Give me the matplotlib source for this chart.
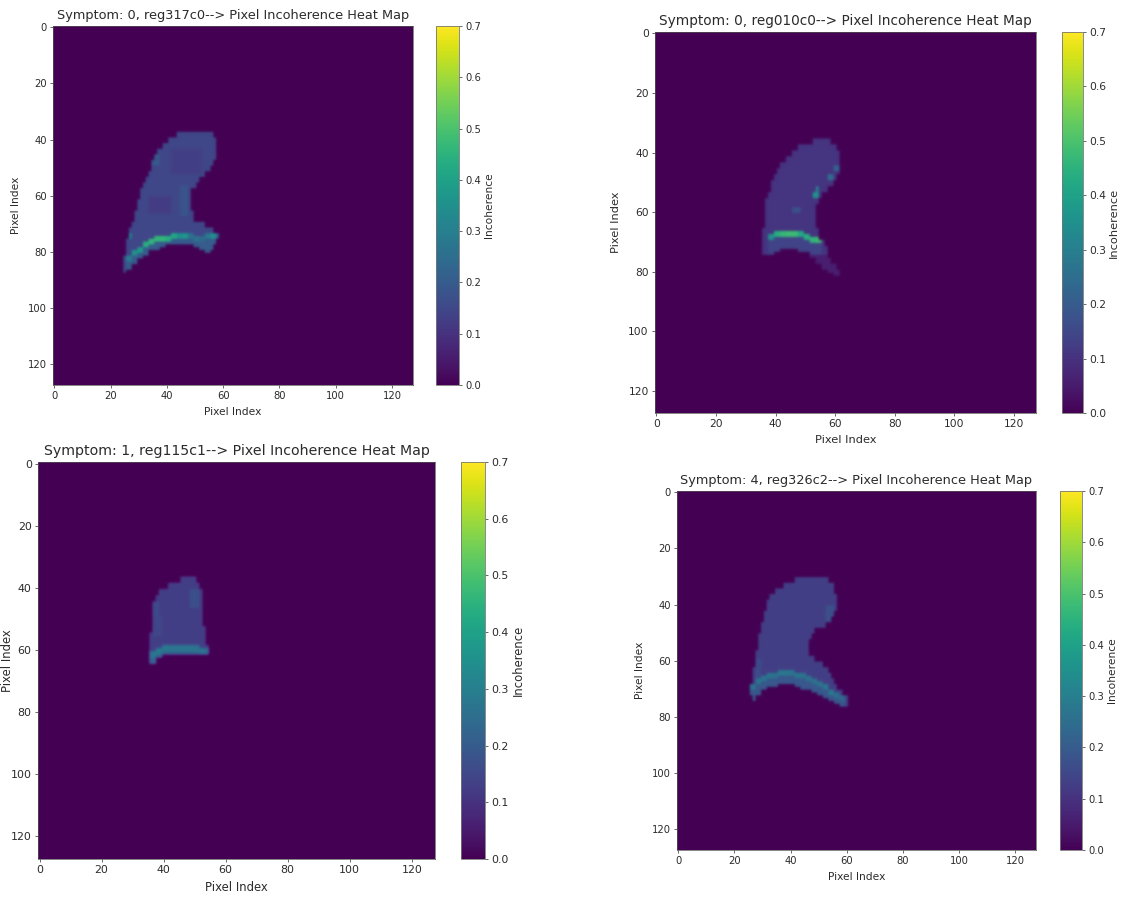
import numpy as np
import matplotlib
matplotlib.use("Agg")
import matplotlib.pyplot as plt

W, H = 1123, 899
SIZE = 128
TICKS = [0, 20, 40, 60, 80, 100, 120]
CBAR_TICKS = [0.0, 0.1, 0.2, 0.3, 0.4, 0.5, 0.6, 0.7]

TITLES = ["Symptom: 0, reg317c0--> Pixel Incoherence Heat Map",
          "Symptom: 0, reg010c0--> Pixel Incoherence Heat Map",
          "Symptom: 1, reg115c1--> Pixel Incoherence Heat Map",
          "Symptom: 4, reg326c2--> Pixel Incoherence Heat Map"]

# ---- panel 1: reg317c0 ----
P1_ROWS  = [38,40,42,44,46,48,50,52,54,56,58,60,62,64,66,68,70,72,74,76,78,80,82,84,86,88]
P1_LEFT  = [44,41,39,37,36,35,35,34,33,32,31,31,30,30,29,29,28,27,27,26,26,26,25,25,25]
P1_RIGHT = [56,57,57,57,57,56,55,53,51,50,48,48,48,48,49,49,53,56,58,58,56,55,55,30,27]
P1_BOT_COLS = [24,26,28,30,32,34,36,38,40,42,44,46,48,50,52,54,56,58,60]
P1_BOT_ROWS = [88,87,85,83,82,80,80,79,78,78,78,78,78,79,80,81,81,76,76]
P1_BASE = 0.15
P1_UNDER = 0.2
P1_BAND_COLS = [26,28,30,32,34,36,38,40,42,44,46,48,50,52,54,56,58]
P1_BAND_ROWS = [82,80,79,77,76,75,75,75,74,74,74,74,75,75,74,74,74]
P1_BAND_VALS = [0.3,0.35,0.38,0.44,0.46,0.46,0.46,0.44,0.42,0.35,0.37,0.26,0.26,0.24,0.28,0.35,0.2]
P1_PATCH_C0 = [42,34,45,34,26]
P1_PATCH_C1 = [53,42,48,38,28]
P1_PATCH_R0 = [44,61,57,46,74]
P1_PATCH_R1 = [53,67,68,50,76]
P1_PATCH_V  = [0.13,0.125,0.18,0.19,0.3]

# ---- panel 2: reg010c0 ----
P2_ROWS  = [36,38,40,42,44,46,48,50,52,54,56,58,60,62,64,66,68,70,72,74,76,78,80,82]
P2_LEFT  = [53,48,46,44,42,41,40,39,39,38,37,37,37,37,37,36,36,36,36,36,36,52,54]
P2_RIGHT = [58,60,61,61,61,61,60,59,57,55,54,53,53,53,53,54,54,56,57,57,58,60,61]
P2_BOT_COLS = [36,38,40,42,44,46,48,50,52,54,56,58,60,62]
P2_BOT_ROWS = [75,75,74,73,73,73,74,74,76,78,80,81,82,82]
P2_BASE = 0.105
P2_UNDER = 0.14
P2_BAND_COLS = [38,40,42,44,46,48,50,52,54]
P2_BAND_ROWS = [68,67,67,67,67,67,68,69,69]
P2_BAND_VALS = [0.36,0.44,0.47,0.48,0.48,0.42,0.44,0.46,0.48]
P2_PATCH_C0 = [54,53,58,60,46,52]
P2_PATCH_C1 = [55,55,60,62,49,63]
P2_PATCH_R0 = [52,54,48,45,59,75]
P2_PATCH_R1 = [54,56,50,47,61,83]
P2_PATCH_V  = [0.3,0.36,0.25,0.22,0.17,0.06]

# ---- panel 3: reg115c1 ----
P3_ROWS  = [37,39,41,43,45,47,49,51,53,55,57,59,61,63,65]
P3_LEFT  = [46,42,39,38,37,37,37,37,37,36,36,36,36,36]
P3_RIGHT = [50,51,52,52,52,52,52,52,53,53,53,54,54,39]
P3_BOT_COLS = [36,38,40,42,44,46,48,50,52,54]
P3_BOT_ROWS = [65,63,62,62,62,62,62,62,62,62]
P3_BASE = 0.13
P3_UNDER = 0.24
P3_BAND_COLS = [36,38,40,42,44,46,48,50,52,54]
P3_BAND_ROWS = [61,60,59,59,59,59,59,59,60,60]
P3_BAND_VALS = [0.28,0.28,0.28,0.27,0.27,0.27,0.27,0.27,0.27,0.25]
P3_PATCH_C0 = [49,37,37]
P3_PATCH_C1 = [52,39,40]
P3_PATCH_R0 = [41,45,50]
P3_PATCH_R1 = [47,50,56]
P3_PATCH_V  = [0.17,0.16,0.15]

# ---- panel 4: reg326c2 ----
P4_ROWS  = [31,33,35,37,39,41,43,45,47,49,51,53,55,57,59,61,63,65,67,69,71,73,75,77]
P4_LEFT  = [42,38,35,33,32,32,31,31,30,30,29,29,29,28,28,28,27,27,27,26,26,27,52]
P4_RIGHT = [53,55,55,56,56,56,55,54,52,48,47,46,46,46,48,51,53,54,55,56,58,60,60]
P4_BOT_COLS = [26,28,30,32,34,36,38,40,42,44,46,48,50,52,54,56,58,60]
P4_BOT_ROWS = [75,73,71,70,70,69,69,69,70,71,71,72,73,74,75,76,77,78]
P4_BASE = 0.13
P4_UNDER = 0.19
P4_BAND_COLS = [26,28,30,32,34,36,38,40,42,44,46,48,50,52,54,56,58]
P4_BAND_ROWS = [69,67,66,65,65,64,64,64,65,65,66,67,68,69,71,72,73]
P4_BAND_VALS = [0.27,0.27,0.27,0.27,0.26,0.28,0.28,0.27,0.27,0.26,0.26,0.26,0.26,0.28,0.28,0.25,0.23]
P4_PATCH_C0 = [53,28]
P4_PATCH_C1 = [56,30]
P4_PATCH_R0 = [41,60]
P4_PATCH_R1 = [47,68]
P4_PATCH_V  = [0.17,0.16]

PANELS = [
    (P1_ROWS,P1_LEFT,P1_RIGHT,P1_BOT_COLS,P1_BOT_ROWS,P1_BASE,P1_UNDER,P1_BAND_COLS,P1_BAND_ROWS,P1_BAND_VALS,P1_PATCH_C0,P1_PATCH_C1,P1_PATCH_R0,P1_PATCH_R1,P1_PATCH_V),
    (P2_ROWS,P2_LEFT,P2_RIGHT,P2_BOT_COLS,P2_BOT_ROWS,P2_BASE,P2_UNDER,P2_BAND_COLS,P2_BAND_ROWS,P2_BAND_VALS,P2_PATCH_C0,P2_PATCH_C1,P2_PATCH_R0,P2_PATCH_R1,P2_PATCH_V),
    (P3_ROWS,P3_LEFT,P3_RIGHT,P3_BOT_COLS,P3_BOT_ROWS,P3_BASE,P3_UNDER,P3_BAND_COLS,P3_BAND_ROWS,P3_BAND_VALS,P3_PATCH_C0,P3_PATCH_C1,P3_PATCH_R0,P3_PATCH_R1,P3_PATCH_V),
    (P4_ROWS,P4_LEFT,P4_RIGHT,P4_BOT_COLS,P4_BOT_ROWS,P4_BASE,P4_UNDER,P4_BAND_COLS,P4_BAND_ROWS,P4_BAND_VALS,P4_PATCH_C0,P4_PATCH_C1,P4_PATCH_R0,P4_PATCH_R1,P4_PATCH_V),
]

# layout in reference pixels: axes x0,x1,y0,y1 and colourbar x0,x1
BOXES = [(53,413,26,385,436,459), (655,1036,32,413,1062,1083),
         (38,435,462,859,461,485), (677,1036,491,850,1060,1082)]
# title size, label size, tick size, y-label pad
FONTS = [(9.3,7.7,7.2,5.0), (9.85,8.2,7.7,5.5), (10.2,8.4,7.9,-2.0), (9.3,7.7,7.2,5.0)]


def build(rows, left, right, bc, br, base, under, cols, brow, bval, c0, c1, r0, r1, pv):
    g = np.zeros((SIZE, SIZE))
    for i in range(len(left)):
        g[rows[i]:rows[i+1], left[i]:right[i]+1] = base
    keep = g > 0
    for a, b, p, q, v in zip(c0, c1, r0, r1, pv):
        g[p:q, a:b] = v
    for i, c in enumerate(cols):
        g[brow[i]:SIZE, c:c+2] = under
    for i, c in enumerate(cols):
        g[brow[i]:brow[i]+2, c:c+2] = bval[i]
    for a, b, p, q, v in zip(c0, c1, r0, r1, pv):
        if v < 0.08:
            g[p:q, a:b] = v
    g[~keep] = 0
    for i, c in enumerate(bc):
        g[br[i]:SIZE, c:c+2] = 0
    return g


fig = plt.figure(figsize=(W/100, H/100), dpi=100)
TXT = "#2b2b2b"
EDGE = "#555555"
for title, data, box, (fs_t, fs, fs_k, ypad) in zip(TITLES, PANELS, BOXES, FONTS):
    x0, x1, y0, y1, cx0, cx1 = box
    ax = fig.add_axes([x0/W, 1-y1/H, (x1-x0)/W, (y1-y0)/H])
    im = ax.imshow(build(*data), cmap="viridis", vmin=0, vmax=0.7,
                   interpolation="gaussian", aspect="auto")
    ax.set_xticks(TICKS)
    ax.set_yticks(TICKS)
    ax.tick_params(labelsize=fs_k, length=2.5, width=0.5, colors=TXT, pad=2)
    ax.set_title(title, fontsize=fs_t, color=TXT, pad=5)
    ax.set_xlabel("Pixel Index", fontsize=fs, color=TXT, labelpad=4)
    ax.set_ylabel("Pixel Index", fontsize=fs, color=TXT, labelpad=ypad)
    for s in ax.spines.values():
        s.set_linewidth(0.5)
        s.set_color(EDGE)
    cax = fig.add_axes([cx0/W, 1-y1/H, (cx1-cx0)/W, (y1-y0)/H])
    cb = fig.colorbar(im, cax=cax, ticks=CBAR_TICKS)
    cb.ax.tick_params(labelsize=fs_k, length=2.5, width=0.5, colors=TXT, pad=2)
    cb.set_label("Incoherence", fontsize=fs, color=TXT, labelpad=2)
    cb.outline.set_linewidth(0.6)
    cb.outline.set_edgecolor("#777777")

fig.savefig("out.png", dpi=100)
